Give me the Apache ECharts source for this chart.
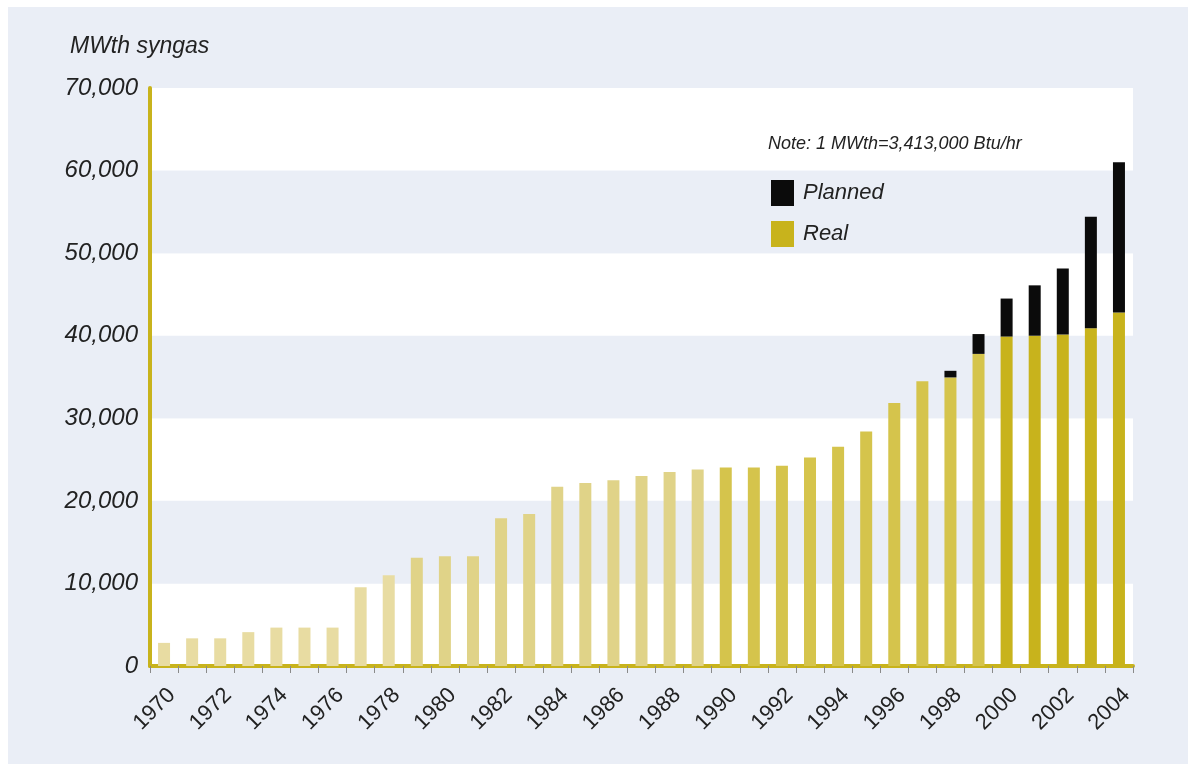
<!DOCTYPE html>
<html>
<head>
<meta charset="utf-8">
<title>MWth syngas</title>
<script src="https://cdn.jsdelivr.net/npm/echarts@6/dist/echarts.min.js"></script>
<style>
  html, body { margin: 0; padding: 0; background: #ffffff; }
  #chart { width: 1188px; height: 764px; }
</style>
</head>
<body>
<div id="chart"></div>
<script>
// Gasification capacity by year, MWth of syngas
const years = [
  '1970','1971','1972','1973','1974','1975','1976','1977','1978','1979',
  '1980','1981','1982','1983','1984','1985','1986','1987','1988','1989',
  '1990','1991','1992','1993','1994','1995','1996','1997','1998','1999',
  '2000','2001','2002','2003','2004'
];
const realCapacity = [
  2800, 3350, 3350, 4100, 4650, 4650, 4650, 9550, 11000, 13100,
  13300, 13300, 17900, 18400, 21700, 22150, 22500, 23000, 23500, 23800,
  24050, 24050, 24250, 25250, 26550, 28400, 31850, 34500, 34950, 37800,
  39900, 40000, 40150, 40900, 42800
];
const plannedCapacity = [
  0, 0, 0, 0, 0, 0, 0, 0, 0, 0,
  0, 0, 0, 0, 0, 0, 0, 0, 0, 0,
  0, 0, 0, 0, 0, 0, 0, 0, 800, 2400,
  4600, 6100, 8000, 13500, 18200
];
const yTicks = [0, 10000, 20000, 30000, 40000, 50000, 60000, 70000];
const seriesNames = ['Planned', 'Real'];
const unitTitle = 'MWth syngas';
const noteText = 'Note: 1 MWth=3,413,000 Btu/hr';

const FONT = "'Liberation Sans Narrow', 'Liberation Sans', 'DejaVu Sans Condensed', sans-serif";
const GOLD = '#c8b31c';

// Real bars get deeper in tone across the decades
function realColor(year) {
  const y = Number(year);
  if (y < 1979) return '#e8dca2';
  if (y < 1990) return '#e0d388';
  if (y < 2000) return '#d5c44c';
  return GOLD;
}

const chart = echarts.init(document.getElementById('chart'), null, { renderer: 'canvas' });

chart.setOption({
  backgroundColor: '#ffffff',
  animation: false,
  graphic: [
    {
      type: 'rect', z: -10, silent: true,
      shape: { x: 8, y: 7, width: 1180, height: 757 },
      style: { fill: '#eaeef6' }
    },
    {
      type: 'text', left: 70, top: 35, z: 100,
      style: { text: unitTitle, font: 'italic 23px ' + FONT, fill: '#222222' }
    },
    {
      type: 'text', left: 768, top: 135, z: 100,
      style: { text: noteText, font: 'italic 18px ' + FONT, fill: '#222222' }
    }
  ],
  legend: {
    data: seriesNames,
    orient: 'vertical',
    left: 766,
    top: 175,
    itemWidth: 23,
    itemHeight: 26,
    itemGap: 15,
    icon: 'rect',
    textStyle: { fontFamily: FONT, fontStyle: 'italic', fontSize: 22, color: '#222222', padding: [0, 0, 0, 4] }
  },
  grid: { left: 150, right: 55, top: 88, bottom: 98 },
  xAxis: {
    type: 'category',
    data: years,
    axisLine: { lineStyle: { color: GOLD, width: 4 } },
    axisTick: { show: true, alignWithLabel: false, interval: 0, length: 7, lineStyle: { color: '#8a8a8a', width: 1 } },
    axisLabel: {
      interval: 1, rotate: 45, margin: 18, verticalAlign: 'top',
      fontFamily: FONT, fontSize: 22, color: '#222222'
    }
  },
  yAxis: {
    type: 'value',
    min: yTicks[0],
    max: yTicks[yTicks.length - 1],
    interval: yTicks[1] - yTicks[0],
    axisLine: { show: true, lineStyle: { color: GOLD, width: 4 } },
    axisTick: { show: false },
    splitLine: { show: false },
    splitArea: { show: true, areaStyle: { color: ['#ffffff', '#eaeef6'] } },
    axisLabel: {
      margin: 12,
      fontFamily: FONT, fontStyle: 'italic', fontSize: 24, color: '#222222',
      formatter: v => v.toLocaleString('en-US')
    }
  },
  series: [
    {
      name: 'Real',
      type: 'bar',
      stack: 'capacity',
      barWidth: 12,
      itemStyle: { color: GOLD },
      data: realCapacity.map((v, i) => ({ value: v, itemStyle: { color: realColor(years[i]) } }))
    },
    {
      name: 'Planned',
      type: 'bar',
      stack: 'capacity',
      barWidth: 12,
      itemStyle: { color: '#0b0b0b' },
      data: plannedCapacity.map(v => (v > 0 ? v : null))
    }
  ]
});
</script>
</body>
</html>
